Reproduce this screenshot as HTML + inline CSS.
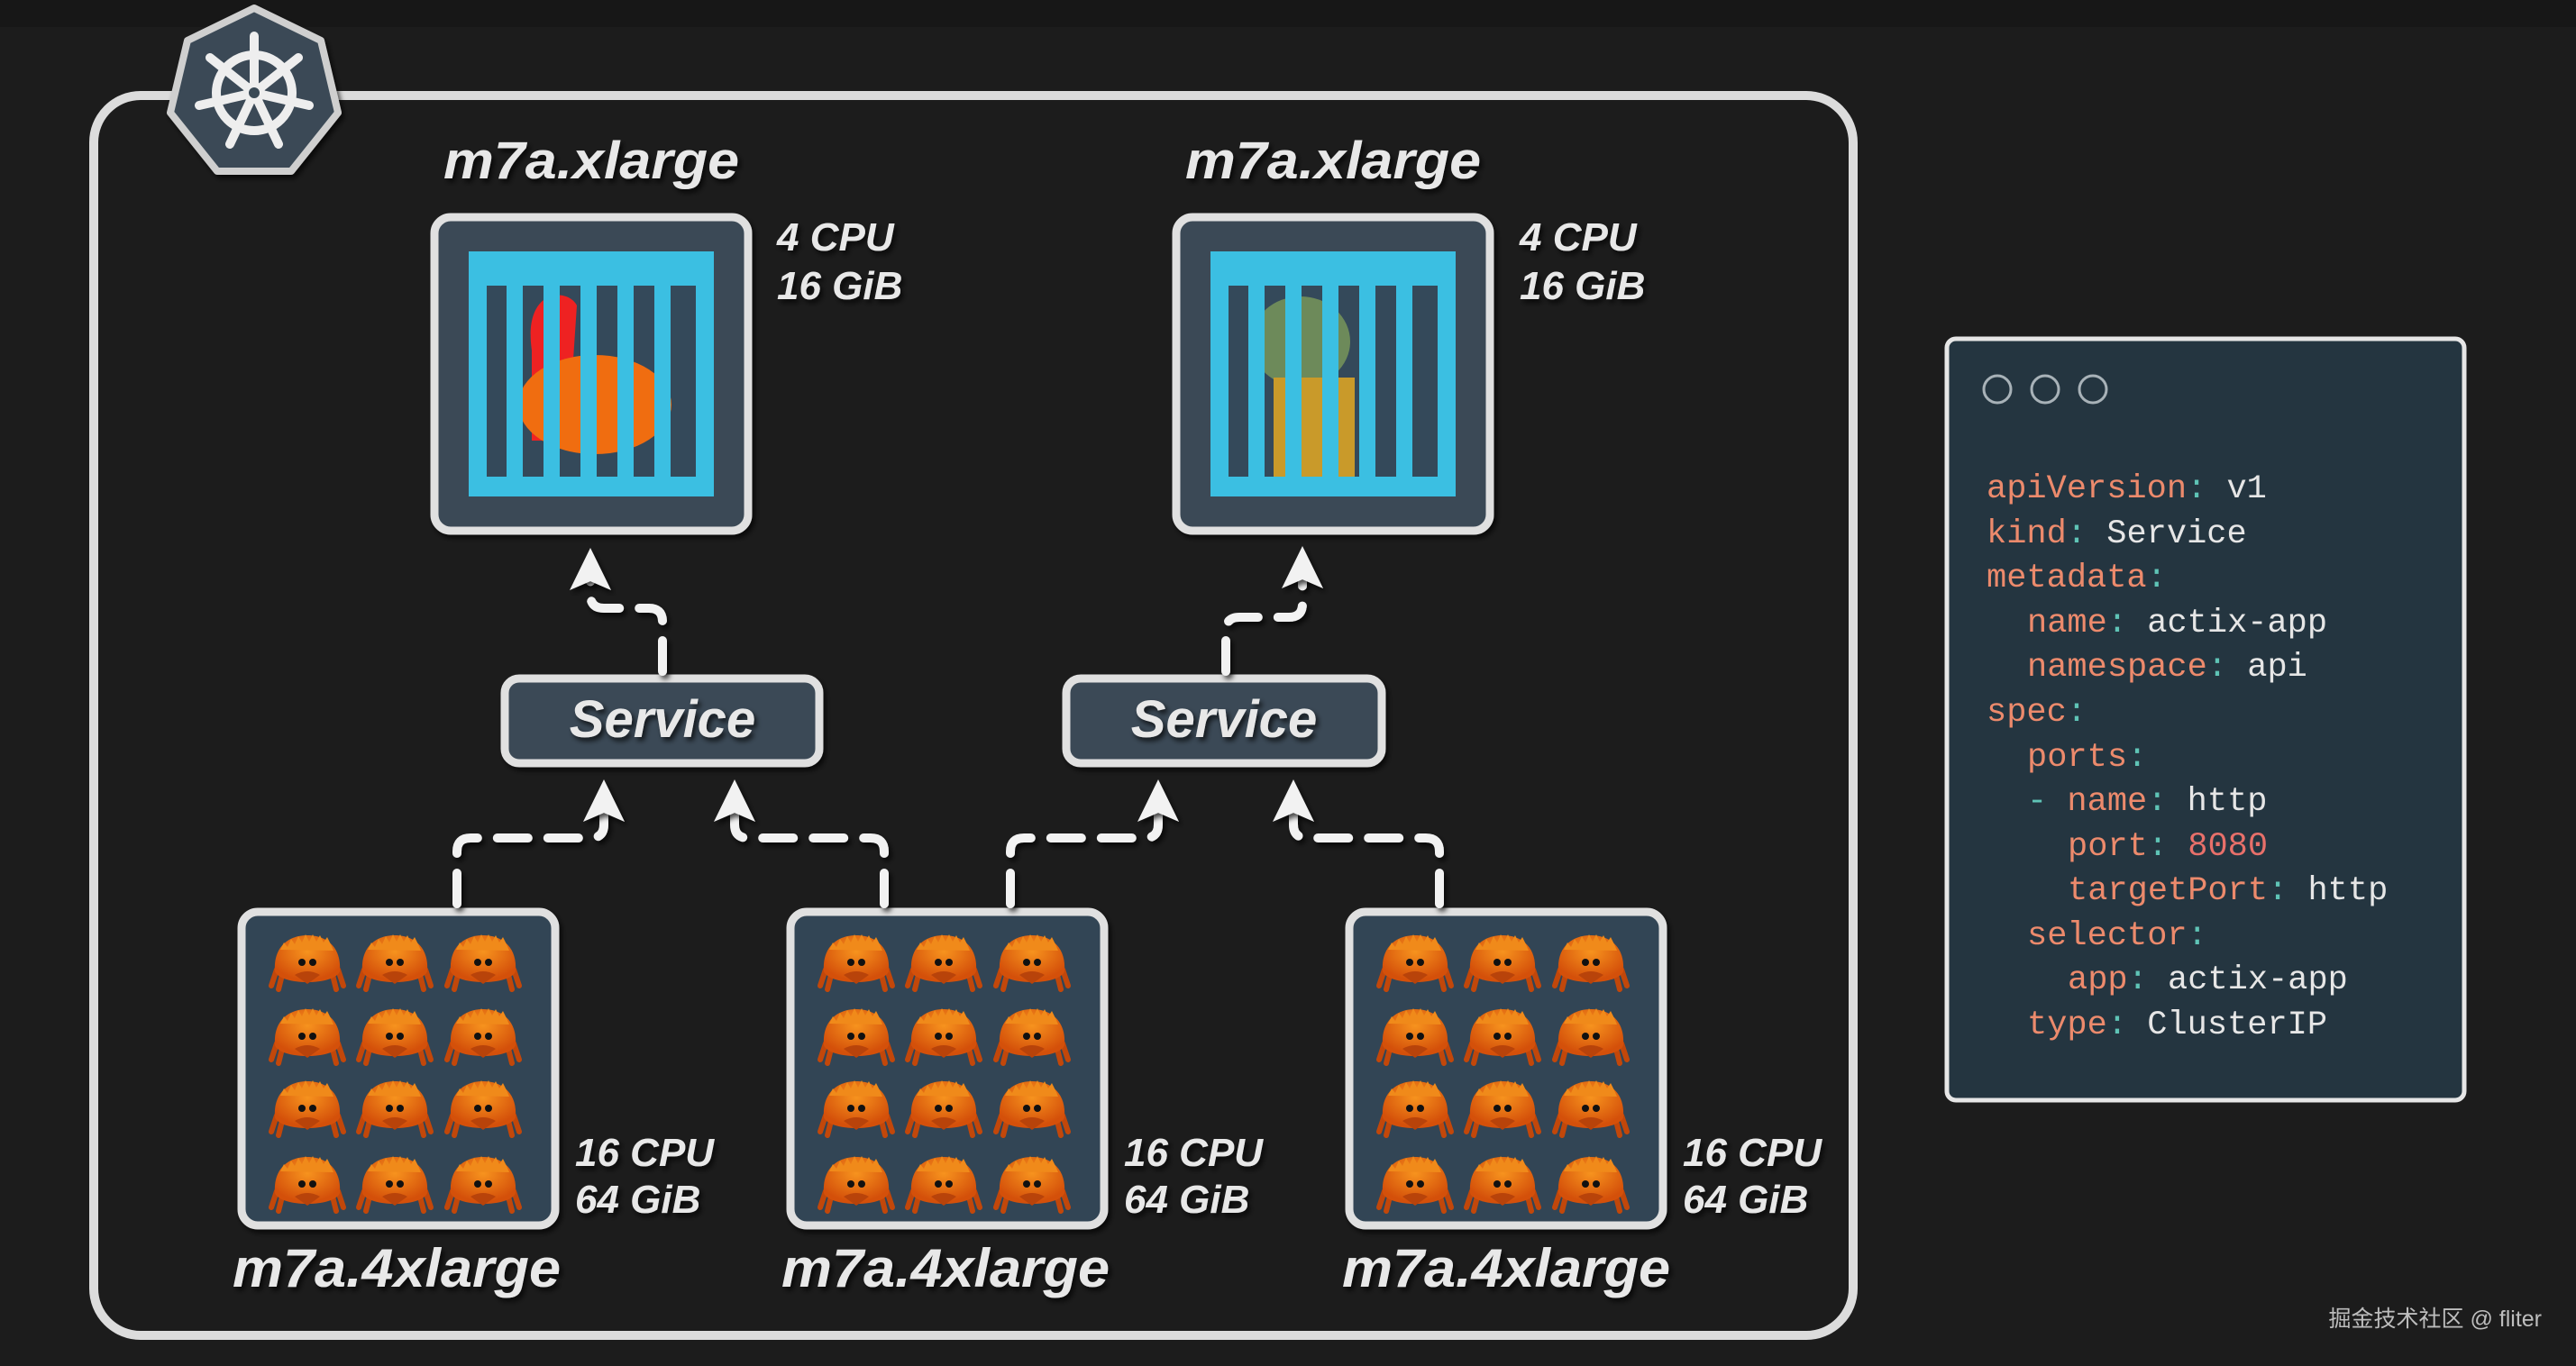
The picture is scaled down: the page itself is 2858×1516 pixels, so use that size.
<!DOCTYPE html>
<html><head><meta charset="utf-8"><style>
html,body{margin:0;padding:0;background:#1c1c1c;}
svg{display:block}
.lbl{font-family:"Liberation Sans",sans-serif;font-weight:bold;font-style:italic;fill:#e8e8e8}
.code{font-family:"Liberation Mono",monospace;font-size:37px}
.k{fill:#ec8a6c}.c{fill:#5fc4b6}.v{fill:#e6e6e6}.n{fill:#e8706a}
</style></head><body>
<svg width="2858" height="1516" viewBox="0 0 2858 1516" xmlns="http://www.w3.org/2000/svg">
<defs>
<filter id="sh" x="-10%" y="-10%" width="130%" height="130%"><feDropShadow dx="3" dy="4" stdDeviation="3" flood-color="#000" flood-opacity="0.7"/></filter>
<radialGradient id="cg" cx="50%" cy="35%" r="60%"><stop offset="0" stop-color="#f7931e"/><stop offset="1" stop-color="#d4500a"/></radialGradient>
<g id="crab">
<path d="M-34,8 L-40,26 M-28,14 L-32,30 M34,8 L40,26 M28,14 L32,30" stroke="#c2470a" stroke-width="6" stroke-linecap="round"/>
<path d="M-36,10 C-38,-18 -20,-30 0,-30 C20,-30 38,-18 36,10 C30,26 -30,26 -36,10Z" fill="url(#cg)"/>
<path d="M-30,-14 l4,-8 l4,5 l4,-9 l4,6 l4,-9 l4,7 l4,-9 l4,8 l4,-8 l4,8 l4,-7 l4,8 l4,-6 l4,8 l3,7Z" fill="#f08a1a"/>
<circle cx="-6" cy="0" r="4" fill="#111"/><circle cx="6" cy="0" r="4" fill="#111"/>
<path d="M-14,14 Q0,6 14,14 L0,24Z" fill="#b8430a"/>
</g>
<g id="bot">
<use href="#crab" x="0" y="0"/><use href="#crab" x="97" y="0"/><use href="#crab" x="195" y="0"/>
<use href="#crab" x="0" y="82"/><use href="#crab" x="97" y="82"/><use href="#crab" x="195" y="82"/>
<use href="#crab" x="0" y="162"/><use href="#crab" x="97" y="162"/><use href="#crab" x="195" y="162"/>
<use href="#crab" x="0" y="246"/><use href="#crab" x="97" y="246"/><use href="#crab" x="195" y="246"/>
</g>
<g id="cage">
<rect x="0" y="0" width="272" height="272" fill="#3bbfe2"/>
<rect x="20" y="38" width="232" height="212" fill="#34495a"/>
<g fill="#3bbfe2"><rect x="42" y="38" width="18" height="212"/><rect x="83" y="38" width="18" height="212"/><rect x="124" y="38" width="18" height="212"/><rect x="165" y="38" width="18" height="212"/><rect x="206" y="38" width="18" height="212"/></g>
</g>
</defs>
<rect width="2858" height="1516" fill="#1c1c1c"/>
<rect width="2858" height="30" fill="#171717"/>
<rect x="104" y="106" width="1952" height="1376" rx="52" fill="none" stroke="#dcdcdc" stroke-width="10"/>
<polygon points="282,9 356,45 375,125 323,190 241,190 189,125 208,45" fill="#3a4a56" stroke="#cfcfcf" stroke-width="8" stroke-linejoin="round" filter="url(#sh)"/>
<g stroke="#eee" fill="none" stroke-width="10" stroke-linecap="round">
<circle cx="282" cy="103" r="42"/>
<path d="M282,103 L282,40 M282,103 L331,64 M282,103 L343,117 M282,103 L309,160 M282,103 L255,160 M282,103 L221,117 M282,103 L233,64"/>
</g>
<circle cx="282" cy="103" r="9" fill="#3a4a56" stroke="#eee" stroke-width="6"/>
<g filter="url(#sh)">
<rect x="482" y="241" width="348" height="348" rx="18" fill="#3a4a56" stroke="#e0e0e0" stroke-width="9"/>
<rect x="1305" y="241" width="348" height="348" rx="18" fill="#3a4a56" stroke="#e0e0e0" stroke-width="9"/>
</g>
<g transform="translate(520,279)">
<use href="#cage"/>
<path d="M70,110 C60,40 110,40 120,60 L110,210 L70,210Z" fill="#e22"/>
<ellipse cx="140" cy="170" rx="85" ry="55" fill="#f06d10"/>
<g fill="#3bbfe2"><rect x="42" y="38" width="18" height="212"/><rect x="83" y="38" width="18" height="212"/><rect x="124" y="38" width="18" height="212"/><rect x="165" y="38" width="18" height="212"/><rect x="206" y="38" width="18" height="212"/></g>
</g>
<g transform="translate(1343,279)">
<use href="#cage"/>
<ellipse cx="100" cy="100" rx="55" ry="50" fill="#6d8a5a"/>
<rect x="70" y="140" width="90" height="110" fill="#c99a2a"/>
<g fill="#3bbfe2"><rect x="42" y="38" width="18" height="212"/><rect x="83" y="38" width="18" height="212"/><rect x="124" y="38" width="18" height="212"/><rect x="165" y="38" width="18" height="212"/><rect x="206" y="38" width="18" height="212"/></g>
</g>
<g class="lbl" filter="url(#sh)">
<text x="656" y="198" font-size="58" text-anchor="middle" textLength="328" lengthAdjust="spacingAndGlyphs">m7a.xlarge</text>
<text x="1479" y="198" font-size="58" text-anchor="middle" textLength="328" lengthAdjust="spacingAndGlyphs">m7a.xlarge</text>
<text x="862" y="278" font-size="44">4 CPU</text>
<text x="862" y="332" font-size="44">16 GiB</text>
<text x="1686" y="278" font-size="44">4 CPU</text>
<text x="1686" y="332" font-size="44">16 GiB</text>
</g>
<g filter="url(#sh)">
<rect x="560" y="753" width="349" height="94" rx="16" fill="#3a4a56" stroke="#e0e0e0" stroke-width="9"/>
<rect x="1183" y="753" width="350" height="94" rx="16" fill="#3a4a56" stroke="#e0e0e0" stroke-width="9"/>
</g>
<g class="lbl" filter="url(#sh)">
<text x="735" y="818" text-anchor="middle" font-size="58">Service</text>
<text x="1358" y="818" text-anchor="middle" font-size="58">Service</text>
</g>
<g filter="url(#sh)">
<rect x="268" y="1012" width="348" height="348" rx="18" fill="#334554" stroke="#e0e0e0" stroke-width="9"/>
<rect x="877" y="1012" width="348" height="348" rx="18" fill="#334554" stroke="#e0e0e0" stroke-width="9"/>
<rect x="1497" y="1012" width="348" height="348" rx="18" fill="#334554" stroke="#e0e0e0" stroke-width="9"/>
</g>
<use href="#bot" x="341" y="1068"/>
<use href="#bot" x="950" y="1068"/>
<use href="#bot" x="1570" y="1068"/>
<g class="lbl" filter="url(#sh)">
<text x="638" y="1294" font-size="44">16 CPU</text><text x="638" y="1346" font-size="44">64 GiB</text>
<text x="1247" y="1294" font-size="44">16 CPU</text><text x="1247" y="1346" font-size="44">64 GiB</text>
<text x="1867" y="1294" font-size="44">16 CPU</text><text x="1867" y="1346" font-size="44">64 GiB</text>
<text x="440" y="1428" font-size="60" text-anchor="middle" textLength="364" lengthAdjust="spacingAndGlyphs">m7a.4xlarge</text>
<text x="1049" y="1428" font-size="60" text-anchor="middle" textLength="364" lengthAdjust="spacingAndGlyphs">m7a.4xlarge</text>
<text x="1671" y="1428" font-size="60" text-anchor="middle" textLength="364" lengthAdjust="spacingAndGlyphs">m7a.4xlarge</text>
</g>
<g fill="none" stroke="#f2f2f2" stroke-width="10" stroke-linecap="round" stroke-dasharray="34 22" filter="url(#sh)">
<path d="M735,745 L735,690 Q735,675 720,675 L670,675 Q655,675 655,660 L655,640"/>
<path d="M1360,745 L1360,700 Q1360,685 1375,685 L1430,685 Q1445,685 1445,670 L1445,640"/>
<path d="M507,1003 L507,945 Q507,930 522,930 L655,930 Q670,930 670,915 L670,900"/>
<path d="M981,1003 L981,945 Q981,930 966,930 L830,930 Q815,930 815,915 L815,900"/>
<path d="M1121,1003 L1121,945 Q1121,930 1136,930 L1270,930 Q1285,930 1285,915 L1285,900"/>
<path d="M1597,1003 L1597,945 Q1597,930 1582,930 L1450,930 Q1435,930 1435,915 L1435,900"/>
</g>
<g fill="#f2f2f2" filter="url(#sh)">
<path d="M655,608 L678,655 L655,645 L632,655Z"/>
<path d="M1445,606 L1468,653 L1445,643 L1422,653Z"/>
<path d="M670,865 L693,912 L670,902 L647,912Z"/>
<path d="M815,865 L838,912 L815,902 L792,912Z"/>
<path d="M1285,865 L1308,912 L1285,902 L1262,912Z"/>
<path d="M1435,865 L1458,912 L1435,902 L1412,912Z"/>
</g>
<rect x="2160" y="376" width="574" height="845" rx="10" fill="#243540" stroke="#e6e6e6" stroke-width="5"/>
<g fill="none" stroke="#a8b2b8" stroke-width="3"><circle cx="2216" cy="432" r="15"/><circle cx="2269" cy="432" r="15"/><circle cx="2322" cy="432" r="15"/></g>
<g class="code">
<text x="2204" y="552"><tspan class="k">apiVersion</tspan><tspan class="c">:</tspan><tspan class="v"> v1</tspan></text>
<text x="2204" y="602"><tspan class="k">kind</tspan><tspan class="c">:</tspan><tspan class="v"> Service</tspan></text>
<text x="2204" y="651"><tspan class="k">metadata</tspan><tspan class="c">:</tspan></text>
<text x="2249" y="701"><tspan class="k">name</tspan><tspan class="c">:</tspan><tspan class="v"> actix-app</tspan></text>
<text x="2249" y="750"><tspan class="k">namespace</tspan><tspan class="c">:</tspan><tspan class="v"> api</tspan></text>
<text x="2204" y="800"><tspan class="k">spec</tspan><tspan class="c">:</tspan></text>
<text x="2249" y="850"><tspan class="k">ports</tspan><tspan class="c">:</tspan></text>
<text x="2249" y="899"><tspan class="c">- </tspan><tspan class="k">name</tspan><tspan class="c">:</tspan><tspan class="v"> http</tspan></text>
<text x="2294" y="949"><tspan class="k">port</tspan><tspan class="c">:</tspan><tspan class="n"> 8080</tspan></text>
<text x="2294" y="998"><tspan class="k">targetPort</tspan><tspan class="c">:</tspan><tspan class="v"> http</tspan></text>
<text x="2249" y="1048"><tspan class="k">selector</tspan><tspan class="c">:</tspan></text>
<text x="2294" y="1097"><tspan class="k">app</tspan><tspan class="c">:</tspan><tspan class="v"> actix-app</tspan></text>
<text x="2249" y="1147"><tspan class="k">type</tspan><tspan class="c">:</tspan><tspan class="v"> ClusterIP</tspan></text>
</g>
<text x="2820" y="1472" text-anchor="end" font-family="'Liberation Sans','Noto Sans CJK SC',sans-serif" font-size="25" fill="#bdbdbd">掘金技术社区 @ fliter</text>
</svg>
</body></html>
